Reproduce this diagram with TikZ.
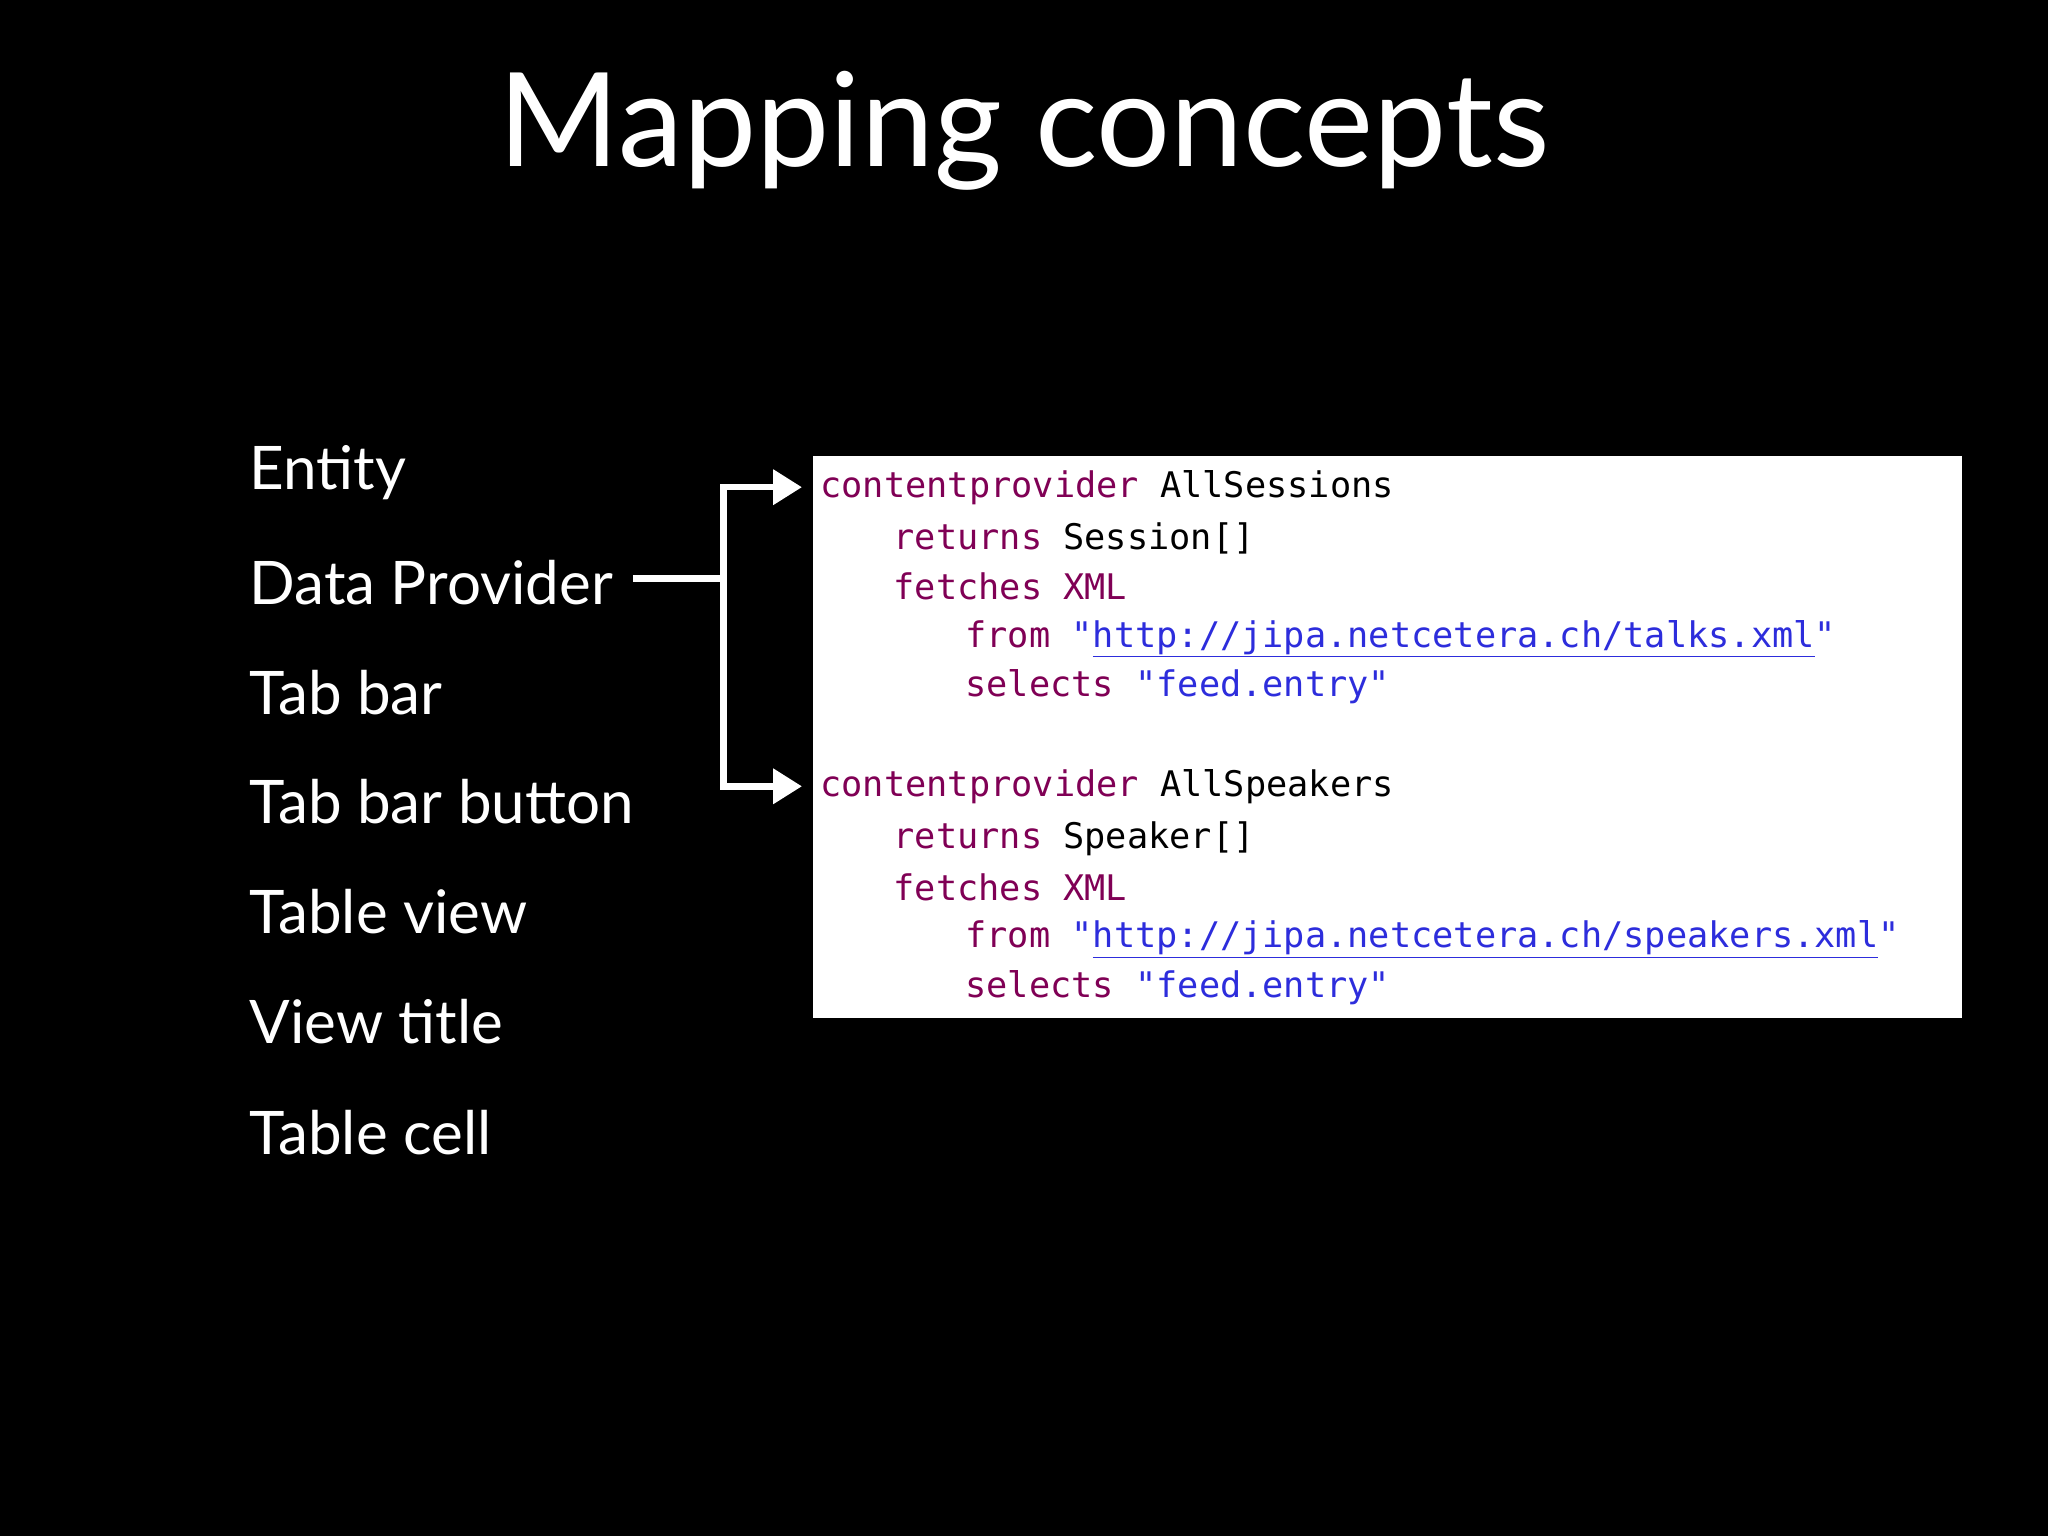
\documentclass[tikz,border=0pt]{standalone}
\usepackage{fontspec}
\setmainfont{Lato}
\setmonofont{DejaVu Sans Mono}
\usetikzlibrary{arrows.meta}
\definecolor{kw}{RGB}{128,0,85}
\definecolor{st}{RGB}{45,45,220}
\tikzset{lbl/.style={anchor=west,text=white,font=\fontsize{46}{50}\selectfont,inner sep=0},
code/.style={anchor=west,inner sep=0,font=\ttfamily\fontsize{27}{30}\selectfont},
conn/.style={draw=white,line width=5pt}}
\begin{document}
\begin{tikzpicture}[x=1pt,y=-1pt]
\fill[black] (0,0) rectangle (1568,1176);
\useasboundingbox (0,0) rectangle (1568,1176);
\node[text=white,font=\fontsize{100}{110}\selectfont] (title) at (784,100) {Mapping concepts};
\foreach \t/\y [count=\i] in {Entity/362,Data Provider/446,Tab bar/530,Tab bar button/614,Table view/698,View title/782,Table cell/867}
  \node[lbl] (l\i) at (191,\y) {\t};
\node[fill=white,minimum width=880pt,minimum height=430pt,anchor=north west,inner sep=0] (box) at (622,349) {};
\node[code] (c1) at (628,373) {\textcolor{kw}{contentprovider} AllSessions};
\node[code] (c2) at (684,412) {\textcolor{kw}{returns} Session[]};
\node[code] (c3) at (684,449) {\textcolor{kw}{fetches XML}};
\node[code] (c4) at (739,489) {\textcolor{kw}{from} \textcolor{st}{"\underline{http://jipa.netcetera.ch/talks.xml}"}};
\node[code] (c5) at (739,526) {\textcolor{kw}{selects} \textcolor{st}{"feed.entry"}};
\node[code] (d1) at (628,602) {\textcolor{kw}{contentprovider} AllSpeakers};
\node[code] (d2) at (684,642) {\textcolor{kw}{returns} Speaker[]};
\node[code] (d3) at (684,679) {\textcolor{kw}{fetches XML}};
\node[code] (d4) at (739,719) {\textcolor{kw}{from} \textcolor{st}{"\underline{http://jipa.netcetera.ch/speakers.xml}"}};
\node[code] (d5) at (739,756) {\textcolor{kw}{selects} \textcolor{st}{"feed.entry"}};
\coordinate (j) at (554,443);
\draw[conn] (l2.east)++(15,-3) -- (j);
\draw[conn,-{Triangle[length=22pt,width=26pt]}] (j) |- ([xshift=-14pt]c1.west);
\draw[conn,-{Triangle[length=22pt,width=26pt]}] (j) |- ([xshift=-14pt]d1.west);
\end{tikzpicture}
\end{document}
